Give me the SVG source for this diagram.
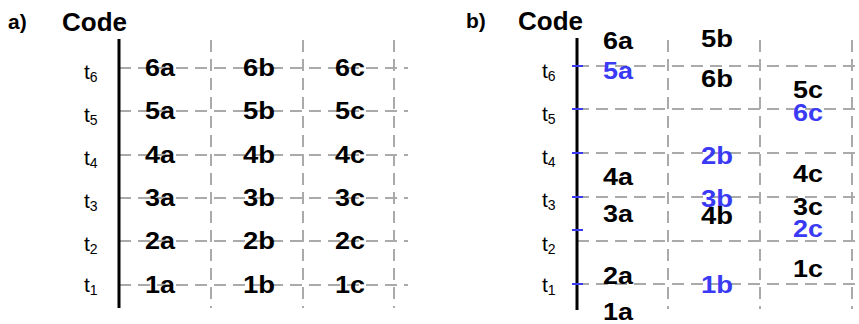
<svg xmlns="http://www.w3.org/2000/svg" width="859" height="324" viewBox="0 0 859 324">
<style>
.ttl{font-family:"Liberation Sans",Arial,sans-serif;font-weight:bold;fill:#000}
.lb{font-family:"Liberation Sans",Arial,sans-serif;font-weight:bold;font-size:23px;text-anchor:middle;fill:#000}
.bl{fill:#3a3af5}
.t{font-family:"Liberation Sans",Arial,sans-serif;font-size:21px;fill:#000}
.sub{font-size:14px}
.g{stroke:#aaaaaa;stroke-width:2;stroke-dasharray:12 7;fill:none}
.ax{stroke:#000;stroke-width:3}
.tk{stroke:#3a3af5;stroke-width:2}
</style>
<rect width="859" height="324" fill="#fff"/>
<g id="connectors">
  <path class="g" d="M119 68H408M119 111H408M119 155H408M119 198H408M119 241H408M119 285H408"/>
  <path class="g" d="M211 40V308M303 40V308M394 40V308"/>
  <line class="ax" x1="119" y1="39" x2="119" y2="308"/>
  <path class="g" d="M577 66H859M577 109H859M577 153H859M577 197H859M577 241H859M577 284H859"/>
  <path class="g" d="M668 40V309M760 40V309M852 40V309"/>
  <line class="ax" x1="577" y1="38" x2="577" y2="310"/>
  <path class="tk" d="M572 66H583M572 109H583M572 153H583M572 197H583M572 230H583M572 284H583"/>
</g>
<g id="titles">
  <text class="ttl" x="8" y="29" font-size="21">a)</text>
  <text class="ttl" x="62" y="31" font-size="26">Code</text>
  <text class="ttl" x="466" y="28" font-size="21">b)</text>
  <text class="ttl" x="518" y="30" font-size="26">Code</text>
</g>
<g id="time-a">
  <text class="t" x="84" y="79">t<tspan class="sub" dy="3">6</tspan></text>
  <text class="t" x="84" y="122">t<tspan class="sub" dy="3">5</tspan></text>
  <text class="t" x="84" y="165">t<tspan class="sub" dy="3">4</tspan></text>
  <text class="t" x="84" y="208">t<tspan class="sub" dy="3">3</tspan></text>
  <text class="t" x="84" y="251">t<tspan class="sub" dy="3">2</tspan></text>
  <text class="t" x="84" y="292">t<tspan class="sub" dy="3">1</tspan></text>
</g>
<g id="time-b">
  <text class="t" x="542" y="78">t<tspan class="sub" dy="3">6</tspan></text>
  <text class="t" x="542" y="121">t<tspan class="sub" dy="3">5</tspan></text>
  <text class="t" x="542" y="164">t<tspan class="sub" dy="3">4</tspan></text>
  <text class="t" x="542" y="207">t<tspan class="sub" dy="3">3</tspan></text>
  <text class="t" x="542" y="251">t<tspan class="sub" dy="3">2</tspan></text>
  <text class="t" x="542" y="292">t<tspan class="sub" dy="3">1</tspan></text>
</g>
<g id="a-6a"><text class="lb" x="160" y="76" textLength="30" lengthAdjust="spacingAndGlyphs">6a</text></g>
<g id="a-6b"><text class="lb" x="259" y="76" textLength="32" lengthAdjust="spacingAndGlyphs">6b</text></g>
<g id="a-6c"><text class="lb" x="350" y="76" textLength="30" lengthAdjust="spacingAndGlyphs">6c</text></g>
<g id="a-5a"><text class="lb" x="160" y="119" textLength="30" lengthAdjust="spacingAndGlyphs">5a</text></g>
<g id="a-5b"><text class="lb" x="259" y="119" textLength="32" lengthAdjust="spacingAndGlyphs">5b</text></g>
<g id="a-5c"><text class="lb" x="350" y="119" textLength="30" lengthAdjust="spacingAndGlyphs">5c</text></g>
<g id="a-4a"><text class="lb" x="160" y="163" textLength="30" lengthAdjust="spacingAndGlyphs">4a</text></g>
<g id="a-4b"><text class="lb" x="259" y="163" textLength="32" lengthAdjust="spacingAndGlyphs">4b</text></g>
<g id="a-4c"><text class="lb" x="350" y="163" textLength="30" lengthAdjust="spacingAndGlyphs">4c</text></g>
<g id="a-3a"><text class="lb" x="160" y="206" textLength="30" lengthAdjust="spacingAndGlyphs">3a</text></g>
<g id="a-3b"><text class="lb" x="259" y="206" textLength="32" lengthAdjust="spacingAndGlyphs">3b</text></g>
<g id="a-3c"><text class="lb" x="350" y="206" textLength="30" lengthAdjust="spacingAndGlyphs">3c</text></g>
<g id="a-2a"><text class="lb" x="160" y="249" textLength="30" lengthAdjust="spacingAndGlyphs">2a</text></g>
<g id="a-2b"><text class="lb" x="259" y="249" textLength="32" lengthAdjust="spacingAndGlyphs">2b</text></g>
<g id="a-2c"><text class="lb" x="350" y="249" textLength="30" lengthAdjust="spacingAndGlyphs">2c</text></g>
<g id="a-1a"><text class="lb" x="160" y="293" textLength="30" lengthAdjust="spacingAndGlyphs">1a</text></g>
<g id="a-1b"><text class="lb" x="259" y="293" textLength="32" lengthAdjust="spacingAndGlyphs">1b</text></g>
<g id="a-1c"><text class="lb" x="350" y="293" textLength="30" lengthAdjust="spacingAndGlyphs">1c</text></g>
<g id="b-6a"><text class="lb" x="618" y="49" textLength="30" lengthAdjust="spacingAndGlyphs">6a</text></g>
<g id="b-5a"><text class="lb bl" x="618" y="79" textLength="30" lengthAdjust="spacingAndGlyphs">5a</text></g>
<g id="b-5b"><text class="lb" x="717" y="47" textLength="32" lengthAdjust="spacingAndGlyphs">5b</text></g>
<g id="b-6b"><text class="lb" x="717" y="87" textLength="32" lengthAdjust="spacingAndGlyphs">6b</text></g>
<g id="b-5c"><text class="lb" x="808" y="98" textLength="30" lengthAdjust="spacingAndGlyphs">5c</text></g>
<g id="b-6c"><text class="lb bl" x="808" y="121" textLength="30" lengthAdjust="spacingAndGlyphs">6c</text></g>
<g id="b-2b"><text class="lb bl" x="717" y="164" textLength="32" lengthAdjust="spacingAndGlyphs">2b</text></g>
<g id="b-4a"><text class="lb" x="618" y="185" textLength="30" lengthAdjust="spacingAndGlyphs">4a</text></g>
<g id="b-4c"><text class="lb" x="808" y="182" textLength="30" lengthAdjust="spacingAndGlyphs">4c</text></g>
<g id="b-3b"><text class="lb bl" x="717" y="207" textLength="32" lengthAdjust="spacingAndGlyphs">3b</text></g>
<g id="b-4b"><text class="lb" x="717" y="224" textLength="32" lengthAdjust="spacingAndGlyphs">4b</text></g>
<g id="b-3a"><text class="lb" x="618" y="222" textLength="30" lengthAdjust="spacingAndGlyphs">3a</text></g>
<g id="b-3c"><text class="lb" x="808" y="215" textLength="30" lengthAdjust="spacingAndGlyphs">3c</text></g>
<g id="b-2c"><text class="lb bl" x="808" y="237" textLength="30" lengthAdjust="spacingAndGlyphs">2c</text></g>
<g id="b-2a"><text class="lb" x="618" y="284" textLength="30" lengthAdjust="spacingAndGlyphs">2a</text></g>
<g id="b-1c"><text class="lb" x="808" y="277" textLength="30" lengthAdjust="spacingAndGlyphs">1c</text></g>
<g id="b-1b"><text class="lb bl" x="717" y="293" textLength="32" lengthAdjust="spacingAndGlyphs">1b</text></g>
<g id="b-1a"><text class="lb" x="618" y="320" textLength="30" lengthAdjust="spacingAndGlyphs">1a</text></g>
</svg>
